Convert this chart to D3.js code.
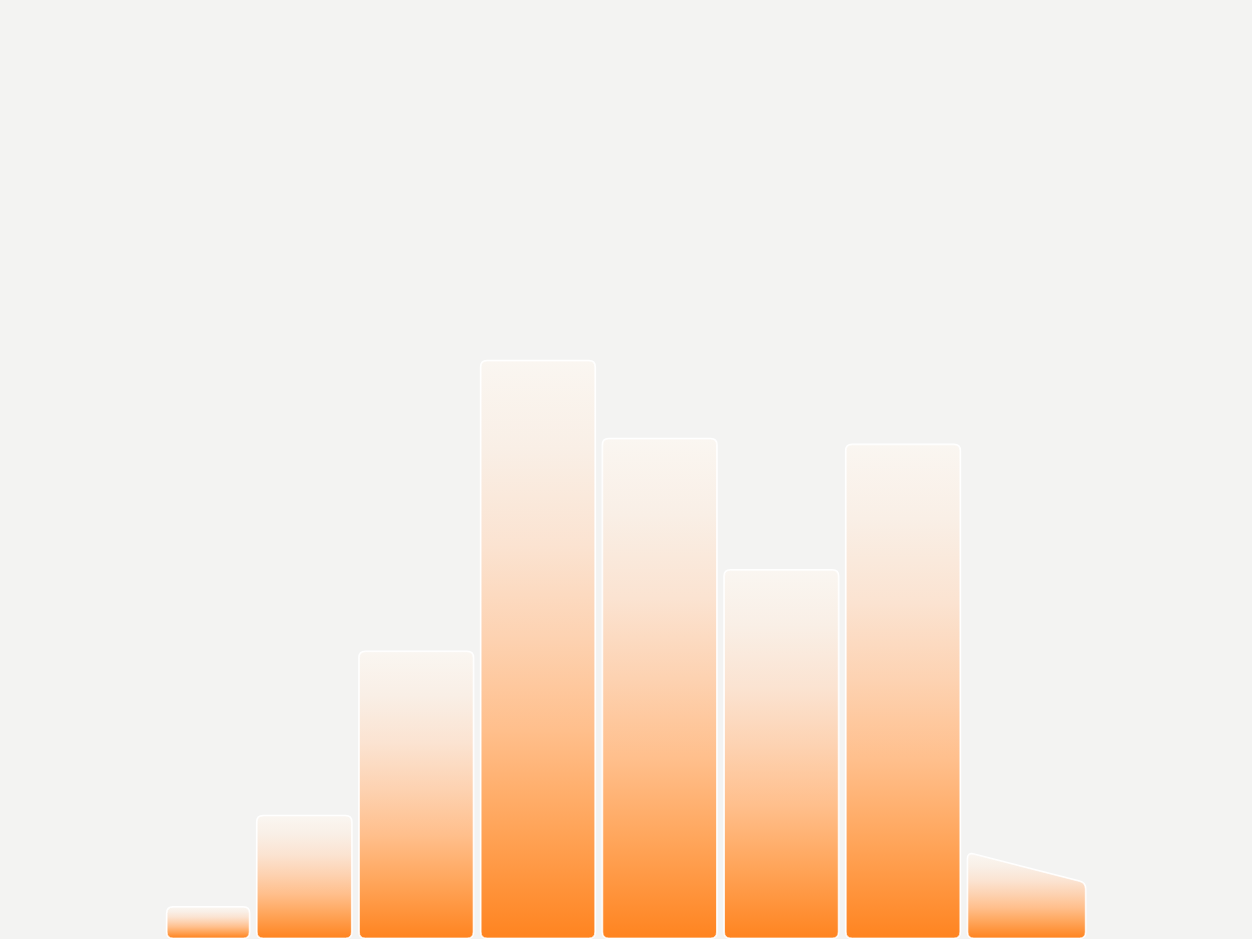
<!DOCTYPE html>
<html>
<head>
<meta charset="utf-8">
<script src="https://cdn.jsdelivr.net/npm/d3@7"></script>
<style>
  html, body { margin: 0; padding: 0; background: #f3f3f2; overflow: hidden; }
  svg { display: block; }
</style>
</head>
<body>
<div id="chart"></div>
<script>
// bin edges (x units) and bar heights at left / right edge of each bin
var binStart = [0.42, 1.16, 2, 3, 4, 5, 6, 7];
var binEnd   = [1.16, 2, 3, 4, 5, 6, 7, 8.03];
var valueLeft  = [5.5, 21.3, 49.7, 100, 86.5, 63.8, 85.5, 14.9];
var valueRight = [5.5, 21.3, 49.7, 100, 86.5, 63.8, 85.5, 9.7];

var width = 1252, height = 939;

var svg = d3.select("#chart")
    .append("svg")
    .attr("width", width)
    .attr("height", height);

svg.append("rect")
    .attr("width", width)
    .attr("height", height)
    .attr("fill", "#f3f3f2");

var defs = svg.append("defs");
var grad = defs.append("linearGradient")
    .attr("id", "barGrad")
    .attr("x1", 0).attr("y1", 0)
    .attr("x2", 0).attr("y2", 1);
[[0, "#faf6f1"], [0.15, "#f9efe6"], [0.32, "#fbe3d1"], [0.48, "#fdd2b1"],
 [0.64, "#ffbf8c"], [0.8, "#ffa65c"], [1, "#ff8420"]].forEach(function(s) {
    grad.append("stop")
        .attr("offset", s[0])
        .attr("stop-color", s[1]);
});

var glow = defs.append("filter").attr("id", "glow")
    .attr("x", "-5%").attr("y", "-5%").attr("width", "110%").attr("height", "110%");
glow.append("feGaussianBlur").attr("stdDeviation", 0.6);

var x = d3.scaleLinear()
    .domain([0, 8])
    .range([112, 1085.6]);

var y = d3.scaleLinear()
    .domain([0, 100])
    .range([939, 361]);

var data = binStart.map(function(d, i) {
    return {x0: d, x1: binEnd[i], vl: valueLeft[i], vr: valueRight[i]};
});

// polygon with rounded corners (quadratic curve at each vertex)
function roundedPoly(pts, r) {
    var n = pts.length, p = "";
    for (var i = 0; i < n; i++) {
        var prev = pts[(i - 1 + n) % n], cur = pts[i], next = pts[(i + 1) % n];
        var d1 = Math.hypot(prev[0] - cur[0], prev[1] - cur[1]);
        var d2 = Math.hypot(next[0] - cur[0], next[1] - cur[1]);
        var r1 = Math.min(r, d1 / 2), r2 = Math.min(r, d2 / 2);
        var a = [cur[0] + (prev[0] - cur[0]) * r1 / d1, cur[1] + (prev[1] - cur[1]) * r1 / d1];
        var b = [cur[0] + (next[0] - cur[0]) * r2 / d2, cur[1] + (next[1] - cur[1]) * r2 / d2];
        p += (i === 0 ? "M" : "L") + a[0] + "," + a[1] + "Q" + cur[0] + "," + cur[1] + " " + b[0] + "," + b[1];
    }
    return p + "Z";
}

var pad = 4;
function barPath(d) {
    var l = x(d.x0) + pad, r = x(d.x1) - pad;
    return roundedPoly([[l, y(d.vl)], [r, y(d.vr)], [r, y(0) - 1], [l, y(0) - 1]], 6);
}

// soft white outline
svg.selectAll(".bar-edge")
    .data(data)
    .enter()
    .append("path")
    .attr("class", "bar-edge")
    .attr("d", barPath)
    .attr("fill", "none")
    .attr("stroke", "#ffffff")
    .attr("stroke-width", 2.5)
    .attr("filter", "url(#glow)");

svg.selectAll(".bar")
    .data(data)
    .enter()
    .append("path")
    .attr("class", "bar")
    .attr("d", barPath)
    .attr("fill", "url(#barGrad)")
    .attr("stroke", "#ffffff")
    .attr("stroke-opacity", 0.7)
    .attr("stroke-width", 1);
</script>
</body>
</html>
